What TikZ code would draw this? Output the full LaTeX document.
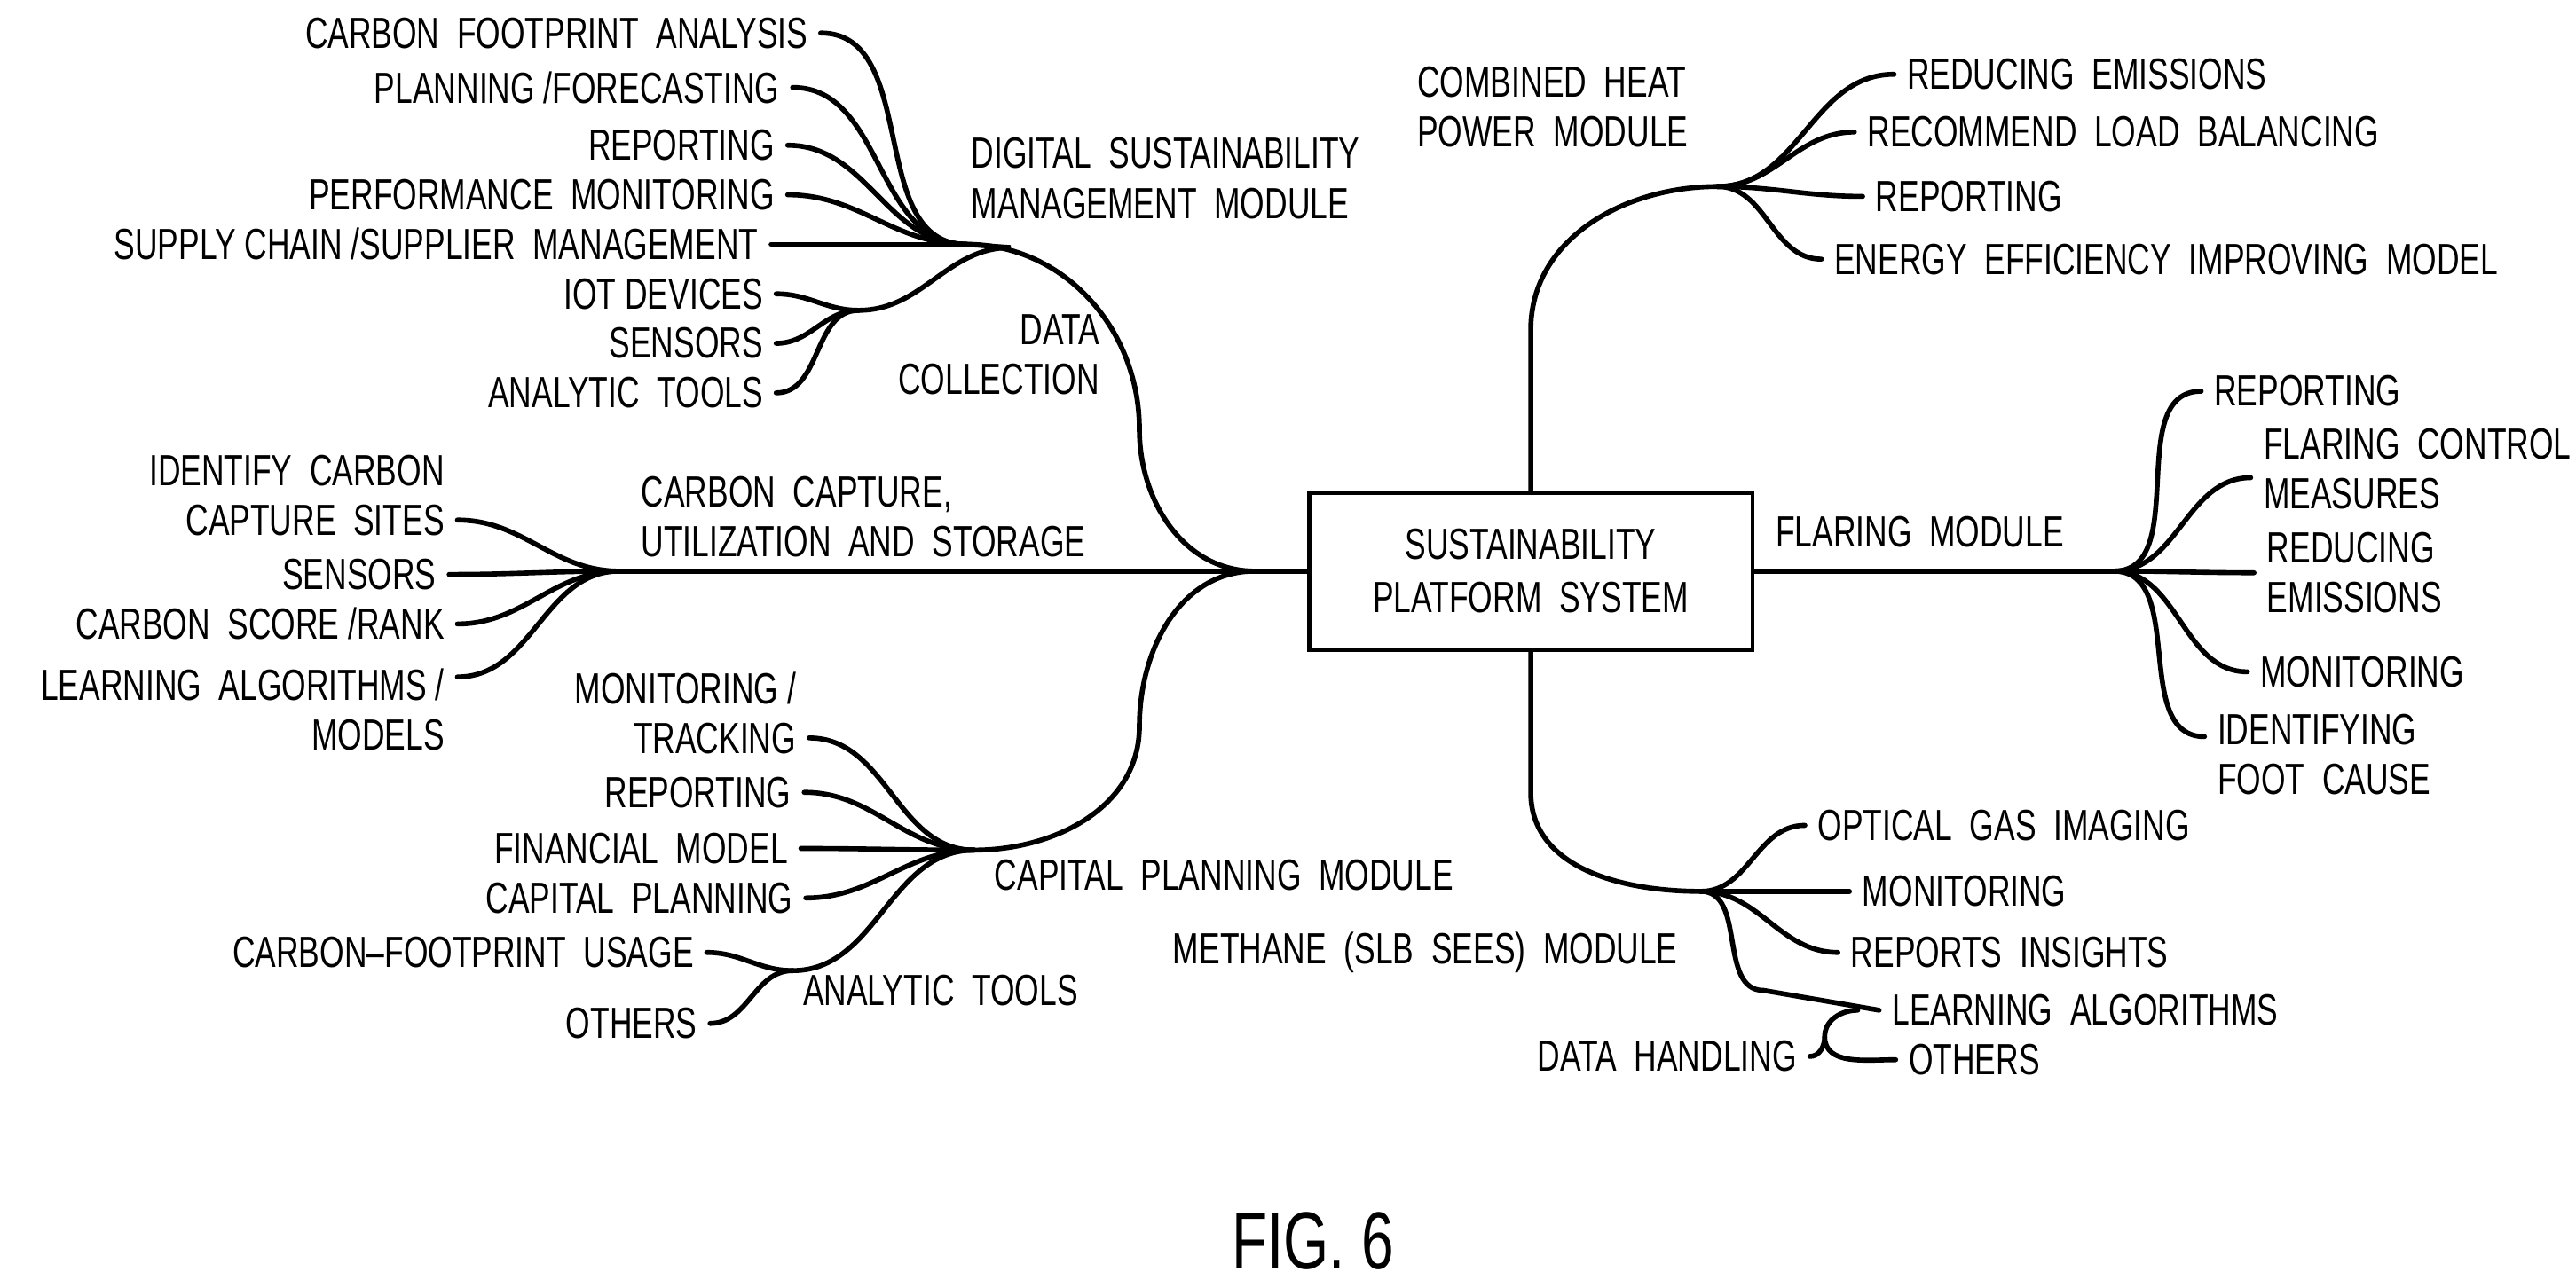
\documentclass[tikz,border=0pt]{standalone}
\usepackage{fontspec}
\setmainfont{Liberation Sans}[FakeStretch=0.72]
\usetikzlibrary{positioning}
\tikzset{
  branch/.style={line width=1.6pt,line cap=round},
  leaf/.style={font=\fontsize{14pt}{16pt}\selectfont,inner sep=4pt},
  lbl/.style={font=\fontsize{14pt}{16pt}\selectfont,inner sep=0pt,align=left,anchor=west},
}
\begin{document}
\begin{tikzpicture}[x=0.01861cm,y=-0.01861cm]
  \useasboundingbox (0,0) rectangle (1560,780);

  % centre
  \node [draw,line width=1.4pt,minimum width=269\pgflinewidth,inner sep=0pt,
         minimum width=5.0cm,minimum height=1.77cm,align=center,
         font=\fontsize{14pt}{17pt}\selectfont] (sps) at (927,346)
         {SUSTAINABILITY\\PLATFORM~~SYSTEM};

  % hubs
  \coordinate (dsm) at (585,148);
  \coordinate (dcol) at (612,150);
  \coordinate (dch) at (520,188);
  \coordinate (ccus) at (375,346);
  \coordinate (cap) at (590,515);
  \coordinate (ana) at (480,588);
  \coordinate (chp) at (1040,113);
  \coordinate (flr) at (1280,346);
  \coordinate (meth) at (1030,540);
  \coordinate (dh) at (1105,628);
  \coordinate (lft) at (760,346);

  % left leaves
  \node [leaf,anchor=east] (cfa) at (497,20) {CARBON~~FOOTPRINT~~ANALYSIS};
  \node [leaf,anchor=east] (plf) at (480,53) {PLANNING /FORECASTING};
  \node [leaf,anchor=east] (rep1) at (477,88) {REPORTING};
  \node [leaf,anchor=east] (pfm) at (477,118) {PERFORMANCE~~MONITORING};
  \node [leaf,anchor=east] (scm) at (467,148) {SUPPLY CHAIN /SUPPLIER~~MANAGEMENT};
  \node [leaf,anchor=east] (iot) at (470,178) {IOT DEVICES};
  \node [leaf,anchor=east] (sen1) at (470,208) {SENSORS};
  \node [leaf,anchor=east] (ant1) at (470,238) {ANALYTIC~~TOOLS};

  \node [leaf,anchor=east,align=right] (icc) at (277,300) {IDENTIFY~~CARBON\\CAPTURE~~SITES};
  \node [leaf,anchor=east] (sen2) at (272,348) {SENSORS};
  \node [leaf,anchor=east] (csr) at (277,378) {CARBON~~SCORE /RANK};
  \node [leaf,anchor=east,align=right] (lam) at (277,430) {LEARNING~~ALGORITHMS /\\MODELS};

  \node [leaf,anchor=east,align=right] (mtr) at (490,432) {MONITORING /\\TRACKING};
  \node [leaf,anchor=east] (rep2) at (487,480) {REPORTING};
  \node [leaf,anchor=east] (fin) at (485,514) {FINANCIAL~~MODEL};
  \node [leaf,anchor=east] (cpl) at (488,544) {CAPITAL~~PLANNING};
  \node [leaf,anchor=east] (cfu) at (428,577) {CARBON--FOOTPRINT~~USAGE};
  \node [leaf,anchor=east] (oth1) at (430,620) {OTHERS};

  % right leaves
  \node [leaf,anchor=west] (red1) at (1147,45) {REDUCING~~EMISSIONS};
  \node [leaf,anchor=west] (rlb) at (1123,80) {RECOMMEND~~LOAD~~BALANCING};
  \node [leaf,anchor=west] (rep3) at (1128,119) {REPORTING};
  \node [leaf,anchor=west] (eei) at (1103,157) {ENERGY~~EFFICIENCY~~IMPROVING~~MODEL};

  \node [leaf,anchor=west] (rep4) at (1333,237) {REPORTING};
  \node [leaf,anchor=west,align=left] (fcm) at (1363,284) {FLARING~~CONTROL\\MEASURES};
  \node [leaf,anchor=west,align=left] (red2) at (1365,347) {REDUCING\\EMISSIONS};
  \node [leaf,anchor=west] (mon1) at (1361,407) {MONITORING};
  \node [leaf,anchor=west,align=left] (ifc) at (1335,457) {IDENTIFYING\\FOOT~~CAUSE};

  \node [leaf,anchor=west] (ogi) at (1093,500) {OPTICAL~~GAS~~IMAGING};
  \node [leaf,anchor=west] (mon2) at (1120,540) {MONITORING};
  \node [leaf,anchor=west] (rpi) at (1113,577) {REPORTS~~INSIGHTS};
  \node [leaf,anchor=west] (lrn) at (1138,612) {LEARNING~~ALGORITHMS};
  \node [leaf,anchor=west] (oth2) at (1148,642) {OTHERS};
  \node [leaf,anchor=east] (dhl) at (1096,640) {DATA~~HANDLING};

  % labels
  \node [lbl] at (588,108) {DIGITAL~~SUSTAINABILITY\\MANAGEMENT~~MODULE};
  \node [lbl,align=right,anchor=east] at (666,215) {DATA\\COLLECTION};
  \node [lbl] at (388,313) {CARBON~~CAPTURE,\\UTILIZATION~~AND~~STORAGE};
  \node [lbl] at (602,530) {CAPITAL~~PLANNING~~MODULE};
  \node [lbl] at (486,600) {ANALYTIC~~TOOLS};
  \node [lbl] at (858,65) {COMBINED~~HEAT\\POWER~~MODULE};
  \node [lbl] at (1075,322) {FLARING~~MODULE};
  \node [lbl] at (710,577) {METHANE~~(SLB~~SEES)~~MODULE};
  \node [lbl,anchor=center,font=\fontsize{26pt}{30pt}\selectfont] at (795,752) {FIG. 6};

  % trunks
  \draw [branch] (sps.west) -- (ccus);
  \draw [branch] (lft) to[out=180,in=-90] (690,260) to[out=90,in=0] (dsm);
  \draw [branch] (lft) to[out=180,in=90] (690,440) to[out=-90,in=0] (cap);
  \draw [branch] (dsm) -- (dcol) to[out=180,in=0] (dch);
  \draw [branch] (cap) to[out=180,in=0] (ana);
  \draw [branch] (sps.east) -- (flr);
  \draw [branch] (sps.north) -- (927,200) to[out=90,in=180] (chp);
  \draw [branch] (sps.south) -- (927,480) to[out=-90,in=180] (meth);

  % branches
  \foreach \n in {cfa,plf,rep1,pfm,scm} \draw [branch] (dsm) to[out=180,in=0] (\n.east);
  \foreach \n in {iot,sen1,ant1} \draw [branch] (dch) to[out=180,in=0] (\n.east);
  \foreach \n in {sen2,csr} \draw [branch] (ccus) to[out=180,in=0] (\n.east);
  \draw [branch] (ccus) to[out=180,in=0] ([yshift=-0.28cm]icc.east);
  \draw [branch] (ccus) to[out=180,in=0] ([yshift=0.37cm]lam.east);
  \draw [branch] (cap) to[out=180,in=0] ([yshift=-0.28cm]mtr.east);
  \foreach \n in {rep2,fin,cpl} \draw [branch] (cap) to[out=180,in=0] (\n.east);
  \foreach \n in {cfu,oth1} \draw [branch] (ana) to[out=180,in=0] (\n.east);
  \foreach \n in {red1,rlb,rep3,eei} \draw [branch] (chp) to[out=0,in=180] (\n.west);
  \foreach \n in {rep4,mon1} \draw [branch] (flr) to[out=0,in=180] (\n.west);
  \draw [branch] (flr) to[out=0,in=180] ([yshift=-0.1cm]fcm.west);
  \draw [branch] (flr) to[out=0,in=180] (red2.west);
  \draw [branch] (flr) to[out=0,in=180] ([yshift=0.2cm]ifc.west);
  \foreach \n in {ogi,mon2,rpi} \draw [branch] (meth) to[out=0,in=180] (\n.west);
  \draw [branch] (meth) to[out=0,in=180] (1068,600) -- (lrn.west);
  \draw [branch] (dhl.east) to[out=0,in=-90] (dh) to[out=90,in=180] (1125,612);
  \draw [branch] (dh) to[out=-90,in=180] (oth2.west);
\end{tikzpicture}
\end{document}
